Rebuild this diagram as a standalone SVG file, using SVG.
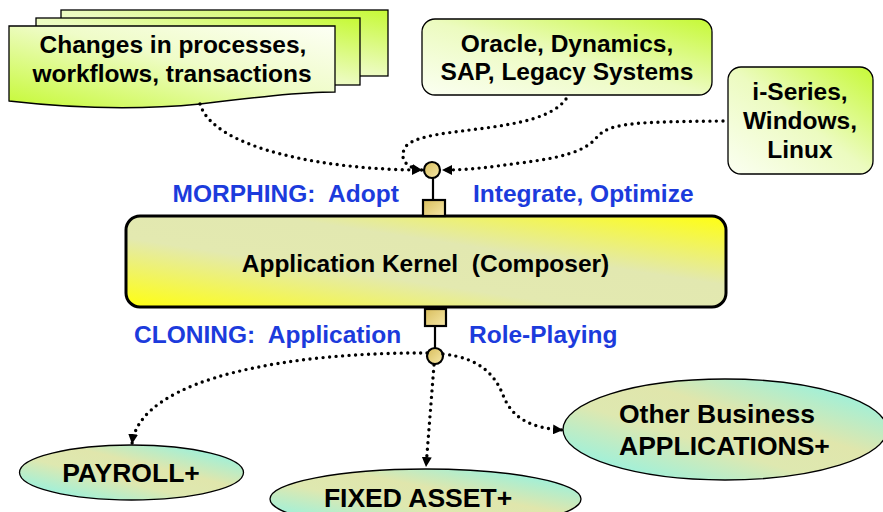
<svg xmlns="http://www.w3.org/2000/svg" width="883" height="512" viewBox="0 0 883 512" xml:space="preserve">
<defs>
<linearGradient id="limeTR" x1="0" y1="1" x2="1" y2="0">
<stop offset="0" stop-color="#fbfff2"/>
<stop offset="0.5" stop-color="#ecfbc0"/>
<stop offset="1" stop-color="#c6f935"/>
</linearGradient>
<linearGradient id="limeBL" x1="0" y1="1" x2="1" y2="0">
<stop offset="0" stop-color="#c6f935"/>
<stop offset="0.55" stop-color="#effcc8"/>
<stop offset="1" stop-color="#fdfff5"/>
</linearGradient>
<linearGradient id="kern" x1="0" y1="1" x2="1" y2="0">
<stop offset="0" stop-color="#ffff10"/>
<stop offset="0.38" stop-color="#e3e9b0"/>
<stop offset="0.62" stop-color="#e2e8b0"/>
<stop offset="1" stop-color="#ffff10"/>
</linearGradient>
<linearGradient id="ell" x1="0" y1="1" x2="1" y2="0">
<stop offset="0" stop-color="#7ff5f0"/>
<stop offset="0.4" stop-color="#dee8b0"/>
<stop offset="0.6" stop-color="#e0e6ac"/>
<stop offset="1" stop-color="#7ff5f0"/>
</linearGradient>
<linearGradient id="tan" x1="0" y1="0" x2="1" y2="1">
<stop offset="0" stop-color="#d8bd5c"/>
<stop offset="1" stop-color="#f6e8a8"/>
</linearGradient>
<marker id="arr" viewBox="0 0 10 10" refX="10" refY="5" markerWidth="10" markerHeight="10" markerUnits="userSpaceOnUse" orient="auto">
<path d="M0,0 L10,5 L0,10 z" fill="#000"/>
</marker>
<style>
text{white-space:pre}
.t{font-family:"Liberation Sans",Arial,sans-serif;font-weight:bold;font-size:24.5px;fill:#000}
.te{font-family:"Liberation Sans",Arial,sans-serif;font-weight:bold;font-size:26.5px;fill:#000}
.b{font-family:"Liberation Sans",Arial,sans-serif;font-weight:bold;font-size:24.5px;fill:#1c3bdc}
.box{stroke:#000;stroke-width:1.3}
.dot{fill:none;stroke:#000;stroke-width:3.4;stroke-linecap:round;stroke-dasharray:0 6.5}
.port{fill:url(#tan);stroke:#000;stroke-width:2.2}
</style>
</defs>

<g id="changes">
<rect x="61" y="10" width="327" height="66" fill="url(#limeTR)" class="box"/>
<rect x="36" y="18" width="324" height="67" fill="url(#limeTR)" class="box"/>
<path d="M9,26 L335,26 L335,92 C300,92 250,98 200,104 C140,110 70,108 9,101 Z" fill="url(#limeBL)" class="box"/>
<text class="t" x="173" y="53" text-anchor="middle">Changes in processes,</text>
<text class="t" x="172" y="82" text-anchor="middle">workflows, transactions</text>
</g>

<g id="oracle">
<rect x="422" y="19" width="290" height="76" rx="13" fill="url(#limeTR)" class="box"/>
<text class="t" x="567" y="52" text-anchor="middle">Oracle, Dynamics,</text>
<text class="t" x="567" y="80" text-anchor="middle">SAP, Legacy Systems</text>
</g>

<g id="platforms">
<rect x="728" y="67" width="145" height="107" rx="13" fill="url(#limeTR)" class="box"/>
<text class="t" x="800" y="100" text-anchor="middle">i-Series,</text>
<text class="t" x="800" y="129" text-anchor="middle">Windows,</text>
<text class="t" x="800" y="158" text-anchor="middle">Linux</text>
</g>

<g id="kernel">
<rect x="126" y="216" width="600" height="91" rx="14" fill="url(#kern)" stroke="#000" stroke-width="3"/>
<text class="t" x="425.5" y="272" text-anchor="middle">Application Kernel  (Composer)</text>
</g>

<g id="top-port">
<line x1="433" y1="178" x2="433" y2="200" stroke="#000" stroke-width="2.2"/>
<rect x="423" y="200" width="22" height="16" class="port"/>
<circle cx="432" cy="170" r="8" class="port"/>
</g>

<g id="bottom-port">
<line x1="435" y1="326" x2="435" y2="349" stroke="#000" stroke-width="2.2"/>
<rect x="425" y="309" width="21" height="17" class="port"/>
<circle cx="435" cy="356" r="8" class="port"/>
</g>

<g id="labels">
<text class="b" x="172.5" y="202">MORPHING:  Adopt</text>
<text class="b" x="473" y="202">Integrate, Optimize</text>
<text class="b" x="134" y="343">CLONING:  Application</text>
<text class="b" x="469" y="343">Role-Playing</text>
</g>

<g id="payroll">
<ellipse cx="131.5" cy="472.5" rx="112" ry="27.5" fill="url(#ell)" class="box"/>
<text class="te" x="131" y="482" text-anchor="middle">PAYROLL+</text>
</g>

<g id="fixed-asset">
<ellipse cx="425.5" cy="499" rx="155.5" ry="30" fill="url(#ell)" class="box"/>
<text class="te" x="418" y="507" text-anchor="middle">FIXED ASSET+</text>
</g>

<g id="other-apps">
<ellipse cx="725" cy="429.5" rx="162" ry="50.5" fill="url(#ell)" class="box"/>
<text class="te" x="619" y="423">Other Business</text>
<text class="te" x="619" y="455">APPLICATIONS+</text>
</g>

<g id="connectors">
<path class="dot" d="M200,104 C214,150 330,170 422,170" marker-end="url(#arr)"/>
<path class="dot" d="M566,99 C540,135 430,125 407,145 C398,156 404,168 422,170" marker-end="url(#arr)"/>
<path class="dot" d="M723,121 C640,122 610,122 597,137 C585,152 560,158 520,163 C490,167 470,170 442,170" marker-end="url(#arr)"/>
<path class="dot" d="M427,353 C300,352 140,375 132,444" marker-end="url(#arr)"/>
<path class="dot" d="M434,365 L426,467" marker-end="url(#arr)"/>
<path class="dot" d="M443,354 C480,358 495,375 503,395 C512,418 530,428 563,430" marker-end="url(#arr)"/>
</g>
</svg>
